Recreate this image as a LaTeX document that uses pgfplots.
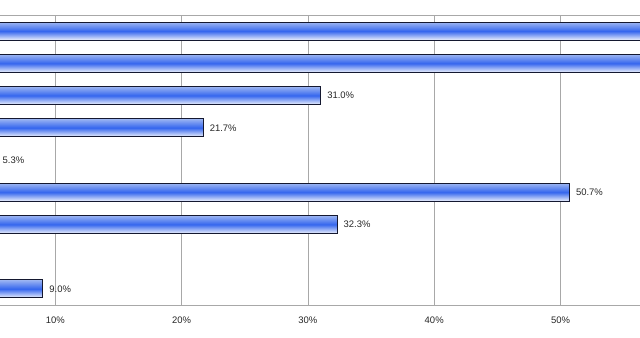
\documentclass[border=0pt]{standalone}
\usepackage{pgfplots}
\pgfplotsset{compat=1.18}
\usepackage{fontspec}
\setmainfont{Liberation Sans}
\definecolor{bartop}{HTML}{9DB6F2}
\definecolor{barmid}{HTML}{3566EE}
\definecolor{barbot}{HTML}{EEF2FC}
\definecolor{barline}{HTML}{141830}
\definecolor{gridc}{HTML}{A8A8A8}
\pgfplotsset{
  gbar/.style={draw=barline, line width=0.8pt,
    shading=axis, top color=bartop, bottom color=barbot, middle color=barmid},
  lbl/.style={nodes near coords={\pgfmathprintnumber[fixed,fixed zerofill,precision=1,assume math mode=true]{\pgfplotspointmeta}\%},
    nodes near coords style={font=\fontsize{9.5}{11}\selectfont, text=black!85, anchor=west, xshift=3bp}},
}
\begin{document}
\begin{tikzpicture}
\useasboundingbox (0,0) rectangle (640bp,338bp);
\clip (0,0) rectangle (640bp,338bp);
\begin{axis}[
  at={(-71bp,33bp)}, anchor=south west,
  scale only axis,
  width=757.8bp, height=290bp,
  xmin=0, xmax=60,
  ymin=0.5, ymax=9.5,
  y dir=reverse,
  xbar, bar width=18bp, bar shift=0pt,
  xtick={10,20,30,40,50},
  xticklabels={10\%,20\%,30\%,40\%,50\%},
  extra x ticks={0,60},
  extra x tick labels={},
  extra x tick style={grid=major},
  ytick=\empty,
  xmajorgrids,
  grid style={gridc, line width=0.8pt},
  axis line style={gridc, line width=0.8pt},
  tick style={draw=none},
  /pgf/number format/assume math mode=true,
  ticklabel style={font=\fontsize{9.5}{11}\selectfont, text=black!85},
  xticklabel style={yshift=-8bp},
  point meta=x,
]
\addplot[gbar] coordinates {(70.0,1)};
\addplot[gbar] coordinates {(66.7,2)};
\addplot[gbar,lbl] coordinates {(31.0,3)};
\addplot[gbar,lbl] coordinates {(21.7,4)};
\addplot[gbar,lbl] coordinates {(5.3,5)};
\addplot[gbar,lbl] coordinates {(50.7,6)};
\addplot[gbar,lbl] coordinates {(32.3,7)};
\addplot[gbar,lbl] coordinates {(9.0,9)};
\end{axis}
\end{tikzpicture}
\end{document}
